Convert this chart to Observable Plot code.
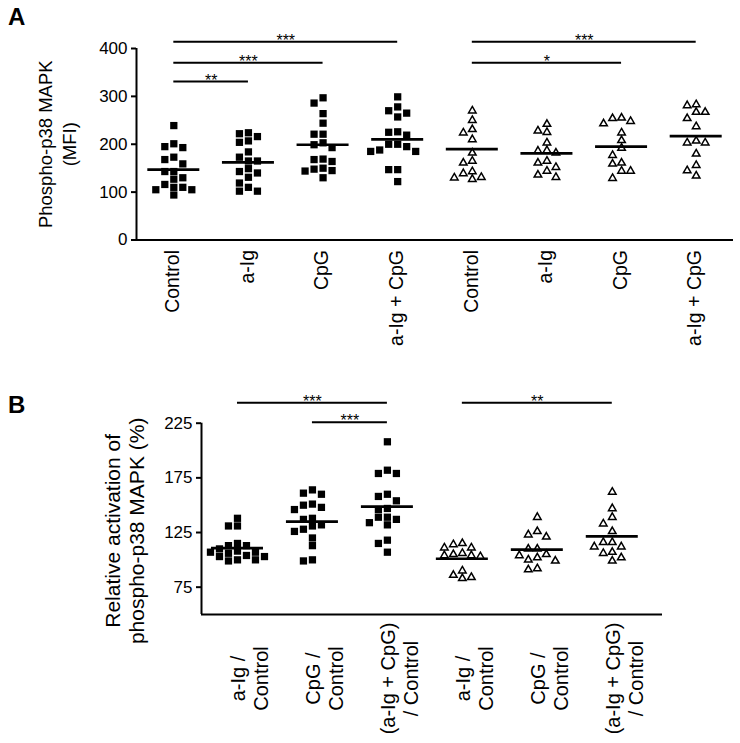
<!DOCTYPE html>
<html><head><meta charset="utf-8">
<script src="https://cdn.jsdelivr.net/npm/d3@7"></script>
<script src="https://cdn.jsdelivr.net/npm/@observablehq/plot@0.6"></script>
<style>
html,body{margin:0;padding:0;background:#fff;}
#wrap{position:relative;width:740px;height:743px;font-family:"Liberation Sans",Arial,sans-serif;overflow:hidden;}
.tag{position:absolute;left:8px;font-weight:bold;font-size:24px;line-height:24px;}
.pl{position:absolute;left:0;}
</style></head><body><div id="wrap"></div>
<script>
// ---------- Panel A data ----------
const labelsA = ["Control","a-Ig","CpG","a-Ig + CpG","Control","a-Ig","CpG","a-Ig + CpG"];
const cohortA = ["filled","filled","filled","filled","open","open","open","open"];
const valuesA = [
  [239,201,195,193,173,168,159,143,143,130,127,116,110,110,105,105,94],
  [224,222,216,207,204,184,173,165,165,149,143,140,131,119,110,102,102],
  [297,286,264,244,221,221,203,199,193,169,168,164,150,148,145,144,130],
  [299,278,270,265,257,226,225,219,200,200,195,188,185,185,147,147,122],
  [270,250,231,224,210,182,165,161,143,139,131,130,127],
  [242,228,225,203,187,186,182,165,161,152,144,136,131],
  [255,254,248,243,224,208,192,177,161,159,144,144,129],
  [283,281,267,267,254,237,207,203,203,180,156,145,134]
];
const meansA = [147,162,199,210,190,181,195,217];
const yTicksA = [0,100,200,300,400];
const yTitleA = "Phospho-p38 MAPK\n(MFI)";
const sigFromA = [0,0,0,4,4];
const sigToA = [3,2,1,7,6];
const sigLevelA = [414,370,331,414,370];
const sigStarsA = ["***","***","**","***","*"];

// ---------- Panel B data ----------
const labelsB = ["a-Ig /\nControl","CpG /\nControl","(a-Ig + CpG)\n/ Control","a-Ig /\nControl","CpG /\nControl","(a-Ig + CpG)\n/ Control"];
const cohortB = ["filled","filled","filled","open","open","open"];
const valuesB = [
  [138,131,131,115,113,113,110,108,107,107,106,104,103,103,100,100,99],
  [164,161,160,151,150,148,146,138,137,132,131,128,126,120,113,100,99],
  [208,182,179,179,160,158,154,147,146,139,139,137,134,132,118,115,107],
  [115,114,111,111,106,105,104,104,103,90,86,84,83],
  [139,126,123,121,110,110,105,104,102,100,99,92,91],
  [162,147,139,133,126,116,116,112,112,107,106,102,99]
];
const meansB = [110.7,135,148.6,101,109.3,121.4];
const yTicksB = [75,125,175,225];
const yTitleB = "Relative activation of\nphospho-p38 MAPK (%)";
const sigFromB = [0,1,3];
const sigToB = [2,2,5];
const sigLevelB = [243.6,225.9,243.6];
const sigStarsB = ["***","***","**"];

// ---------- helpers ----------
const FONT = "Liberation Sans, Arial, sans-serif";
const ctx = document.createElement("canvas").getContext("2d");
function textWidth(s, size) { ctx.font = size + "px " + FONT; return ctx.measureText(s).width; }

// greedy beeswarm in pixel space (returns horizontal offsets in px)
function swarm(vals, pxY, step, gapY) {
  const order = d3.range(vals.length).sort((a, b) => vals[b] - vals[a]);
  const placed = [], off = [];
  for (const i of order) {
    const py = vals[i] * pxY;
    for (let k = 0; k < 50; k++) {
      const c = k === 0 ? 0 : (k % 2 ? -1 : 1) * Math.ceil(k / 2) * step;
      if (!placed.some(p => Math.abs(p.x - c) < step - 0.5 && Math.abs(p.y - py) < gapY)) {
        placed.push({x: c, y: py}); off[i] = c; break;
      }
    }
  }
  return off;
}

function panel(cfg) {
  const {labels, cohort, values, means, yTicks, yDomain, xDomain, title,
         sigFrom, sigTo, sigLevel, sigStars, width, height, mt, mb, ml, mr,
         labelPad, labelCenter, labelSize, labelDx, labelLH, titleSize, titleLH, titleDx, titleDy} = cfg;
  const pxX = (width - ml - mr) / (xDomain[1] - xDomain[0]);
  const pxY = (height - mt - mb) / (yDomain[1] - yDomain[0]);
  const pts = [];
  values.forEach((vals, g) => {
    const off = swarm(vals, pxY, 9, 7.5);
    vals.forEach((v, i) => pts.push({x: g + off[i] / pxX, v, cohort: cohort[g]}));
  });
  const half = 26 / pxX;
  const meanData = means.map((m, i) => ({m, a: i - half, b: i + half}));
  const sigData = sigFrom.map((f, i) => ({from: f, to: sigTo[i], mid: (f + sigTo[i]) / 2, level: sigLevel[i], stars: sigStars[i]}));
  const lab = labels.map((t, i) => {
    const len = d3.max(t.split("\n"), s => textWidth(s, labelSize));
    const off = labelCenter != null ? labelCenter : labelPad + len / 2;
    return {t, x: i, y: yDomain[0] - off / pxY};
  });
  return Plot.plot({
    width, height, marginTop: mt, marginBottom: mb, marginLeft: ml, marginRight: mr,
    x: {type: "linear", domain: xDomain, axis: null},
    y: {type: "linear", domain: yDomain, axis: null},
    style: {fontFamily: FONT, fontSize: "17px", color: "black", background: "transparent", overflow: "visible"},
    marks: [
      Plot.ruleX([xDomain[0]], {stroke: "black", strokeWidth: 2}),
      Plot.ruleY([yDomain[0]], {stroke: "black", strokeWidth: 2}),
      Plot.axisY({ticks: yTicks, tickSize: 5, tickPadding: 4, fontSize: 17, strokeWidth: 2, fill: "black", label: null}),
      Plot.dot(pts.filter(d => d.cohort === "filled"), {x: "x", y: "v", symbol: "square", r: 4.1, fill: "black", stroke: "none"}),
      Plot.dot(pts.filter(d => d.cohort === "open"), {x: "x", y: "v", symbol: "triangle", r: 2.8, fill: "white", stroke: "black", strokeWidth: 1.5}),
      Plot.ruleY(meanData, {y: "m", x1: "a", x2: "b", stroke: "black", strokeWidth: 2.7}),
      Plot.ruleY(sigData, {y: "level", x1: "from", x2: "to", stroke: "black", strokeWidth: 2}),
      Plot.text(sigData, {x: "mid", y: "level", text: "stars", fontSize: 16, fill: "black", lineAnchor: "middle", dy: -1}),
      Plot.text(lab, {x: "x", y: "y", text: "t", rotate: -90, textAnchor: "middle", lineAnchor: "middle", dx: labelDx, lineHeight: labelLH, fontSize: labelSize, fill: "black"}),
      Plot.text([title], {frameAnchor: "left", text: d => d, rotate: -90, dx: titleDx, dy: titleDy, lineAnchor: "middle", textAnchor: "middle", lineHeight: titleLH, fontSize: titleSize, fill: "black"})
    ]
  });
}

const wrap = document.getElementById("wrap");

const pA = panel({
  labels: labelsA, cohort: cohortA, values: valuesA, means: meansA, yTicks: yTicksA,
  yDomain: [0, 400], xDomain: [-0.5, 7.5], title: yTitleA,
  sigFrom: sigFromA, sigTo: sigToA, sigLevel: sigLevelA, sigStars: sigStarsA,
  width: 740, height: 380, mt: 48, mb: 140.5, ml: 136, mr: 7,
  labelPad: 10, labelCenter: null, labelSize: 19.5, labelDx: -2, labelLH: 1.15,
  titleSize: 18.5, titleLH: 1.3, titleDx: -80, titleDy: 0
});
pA.classList.add("pl"); pA.style.top = "0px";
wrap.appendChild(pA);

const pB = panel({
  labels: labelsB, cohort: cohortB, values: valuesB, means: meansB, yTicks: yTicksB,
  yDomain: [50, 225], xDomain: [-0.48, 5.67], title: yTitleB,
  sigFrom: sigFromB, sigTo: sigToB, sigLevel: sigLevelB, sigStars: sigStarsB,
  width: 740, height: 363, mt: 42.7, mb: 129, ml: 201, mr: 78,
  labelPad: 14, labelCenter: 64, labelSize: 20, labelDx: 12, labelLH: 1.15,
  titleSize: 21, titleLH: 1.14, titleDx: -77, titleDy: 12
});
pB.classList.add("pl"); pB.style.top = "380px";
wrap.appendChild(pB);

const tA = document.createElement("div"); tA.className = "tag"; tA.style.top = "5px"; tA.textContent = "A"; wrap.appendChild(tA);
const tB = document.createElement("div"); tB.className = "tag"; tB.style.top = "393px"; tB.textContent = "B"; wrap.appendChild(tB);
</script></body></html>
